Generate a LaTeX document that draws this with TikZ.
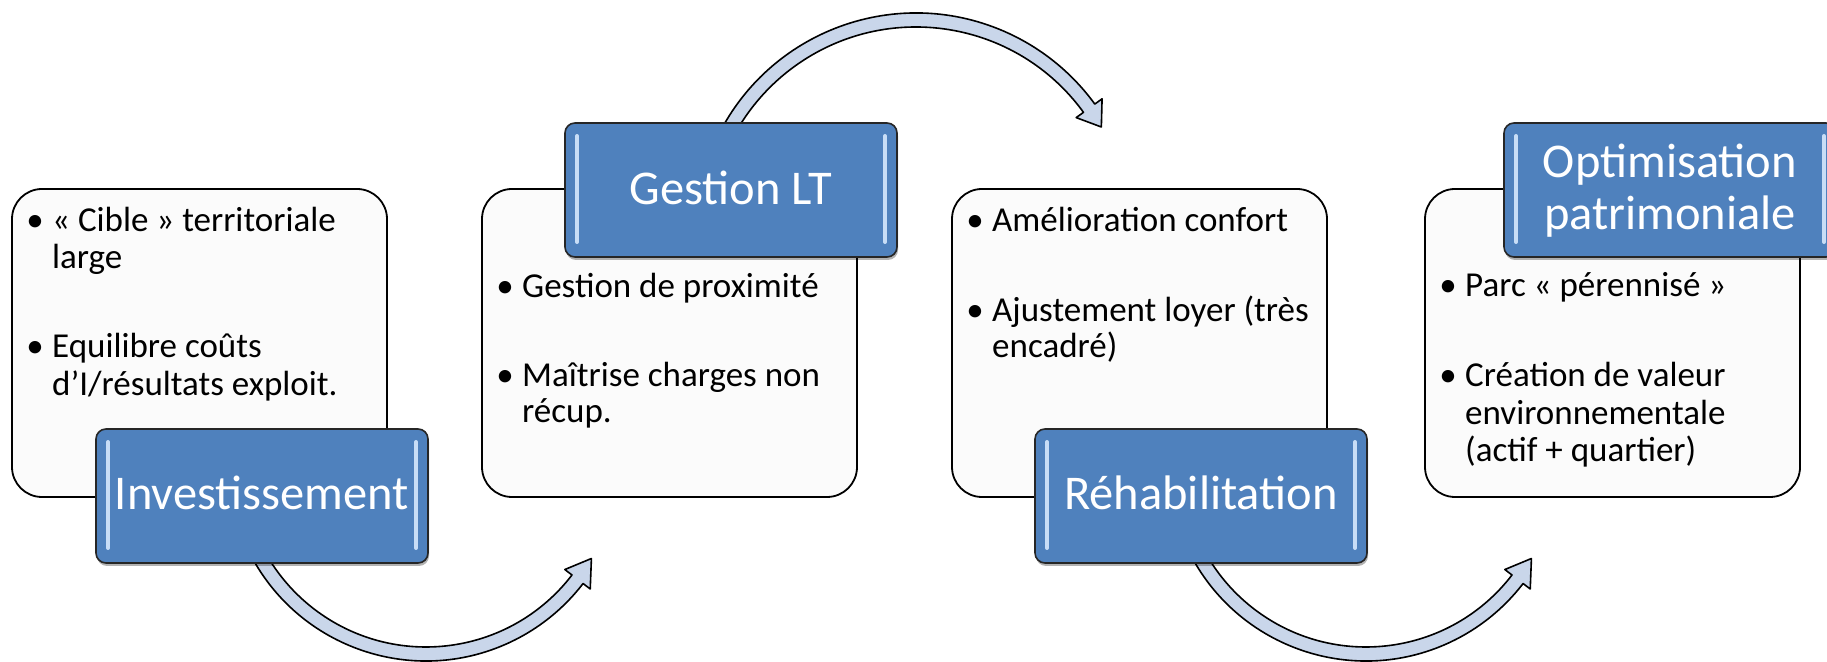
\documentclass[tikz,border=0pt]{standalone}
\usepackage{fontspec}
\setmainfont{Carlito}
\usetikzlibrary{calc,shadows}
\definecolor{boxblue}{HTML}{4F81BD}
\definecolor{arrowfill}{HTML}{C9D6EA}
\definecolor{paper}{HTML}{FBFBFB}
\definecolor{hilite}{HTML}{C8DDF6}
\begin{document}
\begin{tikzpicture}[x=1pt,y=1pt,
  panel/.style={draw=black, line width=1.8pt, fill=paper, rounded corners=30pt,
    minimum width=375pt, minimum height=308pt, inner sep=0pt, outer sep=0pt, anchor=south west},
  titlebox/.style={draw=black!85, line width=1.6pt, fill=boxblue, rounded corners=10pt,
    minimum width=332pt, minimum height=134pt, inner sep=0pt, outer sep=0pt, anchor=south west,
    drop shadow={shadow xshift=1pt, shadow yshift=-3pt, opacity=0.3, fill=black}},
  shine/.style={draw=hilite, line width=4pt, line cap=round},
  flowarrow/.style={draw=black, line width=1.6pt, fill=arrowfill, line join=round},
  bodytext/.style={font=\fontsize{35}{42}\selectfont, inner sep=0pt, anchor=base west},
  dot/.style={font=\fontsize{35}{42}\selectfont, inner sep=0pt, anchor=base},
  titletext/.style={font=\fontsize{48.5}{56}\selectfont, text=white, inner sep=0pt, anchor=base}]
\useasboundingbox (0,0) rectangle (1827,661);
\clip (0,0) rectangle (1827,661);
\fill[white] (0,0) rectangle (1827,661);

% white panels
\node[panel] (w1) at (12,164) {};
\node[panel] (w2) at (482,164) {};
\node[panel] (w3) at (952,164) {};
\node[panel] (w4) at (1425,164) {};

% curved arrows
\coordinate (c1) at (426,198);
\coordinate (c2) at (916,427);
\coordinate (c3) at (1366,198);
\draw[flowarrow] ($(c1)+(205:198)$) arc[start angle=205, end angle=322.5, radius=198]
  -- ($(c1)+(322.5:207)$) -- ($(c1)+(330:191)$) -- ($(c1)+(322.5:175)$)
  -- ($(c1)+(322.5:184)$) arc[start angle=322.5, end angle=205, radius=184] -- cycle;
\draw[flowarrow] ($(c2)+(155:221)$) arc[start angle=155, end angle=36, radius=221]
  -- ($(c2)+(36:230)$) -- ($(c2)+(30:214)$) -- ($(c2)+(36:198)$)
  -- ($(c2)+(36:207)$) arc[start angle=36, end angle=155, radius=207] -- cycle;
\draw[flowarrow] ($(c3)+(205:198)$) arc[start angle=205, end angle=322.5, radius=198]
  -- ($(c3)+(322.5:207)$) -- ($(c3)+(330:191)$) -- ($(c3)+(322.5:175)$)
  -- ($(c3)+(322.5:184)$) arc[start angle=322.5, end angle=205, radius=184] -- cycle;

% blue title boxes
\node[titlebox] (b1) at (96,98) {};
\node[titlebox] (b2) at (565,404) {};
\node[titlebox] (b3) at (1035,98) {};
\node[titlebox] (b4) at (1504,404) {};
\foreach \b in {b1,b2,b3,b4}{
  \draw[shine] ($(\b.south west)+(12,15)$) -- ($(\b.north west)+(12,-13)$);
  \draw[shine] ($(\b.south east)+(-12,15)$) -- ($(\b.north east)+(-12,-13)$);
}

% titles
\node[titletext] (l1) at (262,151) {Investissement};
\node[titletext] (l2) at (731,456) {Gestion LT};
\node[titletext] (l3) at (1201,151) {Réhabilitation};
\node[titletext] (l4a) at (1670,483) {Optimisation};
\node[titletext] (l4b) at (1670,431) {patrimoniale};

% panel 1 text
\node[dot] (d1a) at (35,429) {•};
\node[bodytext] (t1a) at (52,429) {« Cible » territoriale};
\node[bodytext] (t1b) at (52,392) {large};
\node[dot] (d1b) at (35,303) {•};
\node[bodytext] (t1c) at (52,303) {Equilibre coûts};
\node[bodytext] (t1d) at (52,265) {d’I/résultats exploit.};

% panel 2 text
\node[dot] (d2a) at (505,363) {•};
\node[bodytext] (t2a) at (522,363) {Gestion de proximité};
\node[dot] (d2b) at (505,274) {•};
\node[bodytext] (t2b) at (522,274) {Maîtrise charges non};
\node[bodytext] (t2c) at (522,238) {récup.};

% panel 3 text
\node[dot] (d3a) at (975,429) {•};
\node[bodytext] (t3a) at (992,429) {Amélioration confort};
\node[dot] (d3b) at (975,339) {•};
\node[bodytext] (t3b) at (992,339) {Ajustement loyer (très};
\node[bodytext] (t3c) at (992,303) {encadré)};

% panel 4 text
\node[dot] (d4a) at (1448,364) {•};
\node[bodytext] (t4a) at (1465,364) {Parc « pérennisé »};
\node[dot] (d4b) at (1448,274) {•};
\node[bodytext] (t4b) at (1465,274) {Création de valeur};
\node[bodytext] (t4c) at (1465,236) {environnementale};
\node[bodytext] (t4d) at (1465,199) {(actif + quartier)};
\end{tikzpicture}
\end{document}
